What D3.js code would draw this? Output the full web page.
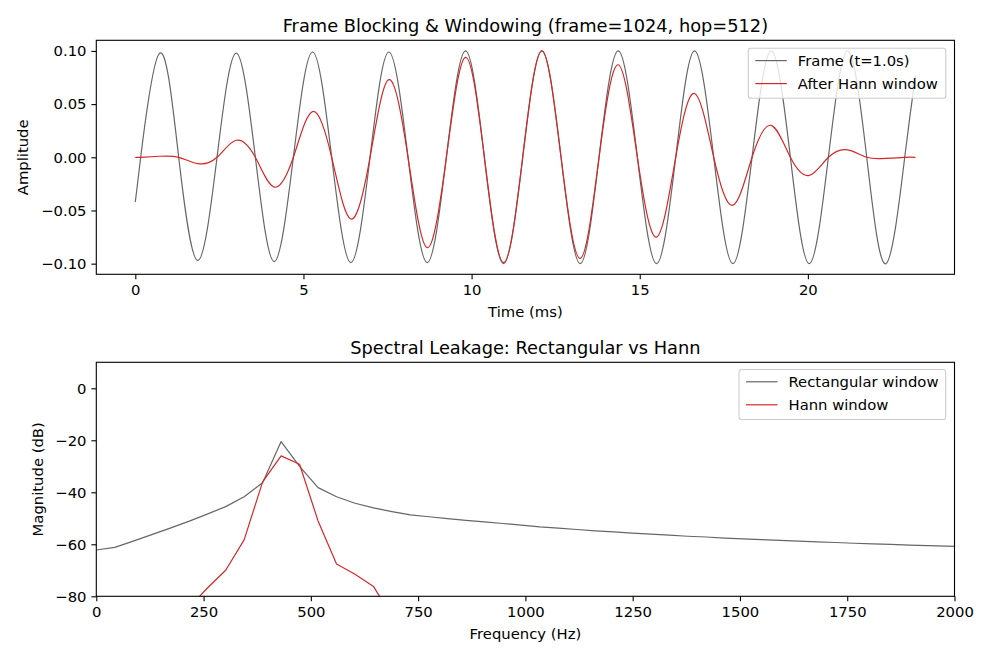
<!DOCTYPE html>
<html>
<head>
<meta charset="utf-8">
<script src="https://cdn.jsdelivr.net/npm/d3@7"></script>
<style>
  body { margin: 0; background: #fff; }
  svg text { font-family: "DejaVu Sans", sans-serif; fill: #000; }
</style>
</head>
<body>
<script>
const width = 990
const height = 660

// top panel: one frame, points at zero crossings and extrema (ms)
const frameTime = [0, 0.16, 0.73, 1.29, 1.86, 2.43, 3.00, 3.57, 4.13, 4.70, 5.27, 5.84, 6.41, 6.98,
  7.54, 8.11, 8.68, 9.25, 9.82, 10.38, 10.95, 11.52, 12.09, 12.66, 13.23, 13.79, 14.36, 14.93,
  15.50, 16.07, 16.63, 17.20, 17.77, 18.34, 18.91, 19.48, 20.04, 20.61, 21.18, 21.75, 22.32,
  22.88, 23.20]
const frameAmp = [-0.042, 0, 0.098, 0, -0.097, 0, 0.098, 0, -0.098, 0, 0.099, 0, -0.099, 0,
  0.099, 0, -0.099, 0, 0.100, 0, -0.100, 0, 0.100, 0, -0.100, 0, 0.100, 0,
  -0.100, 0, 0.100, 0, -0.100, 0, 0.100, 0, -0.100, 0, 0.100, 0, -0.100,
  0, 0.077]
const hannAmp = [0, 0, 0.001, 0, -0.006, 0, 0.016, 0, -0.028, 0, 0.043, 0, -0.058, 0,
  0.073, 0, -0.085, 0, 0.094, 0, -0.099, 0, 0.100, 0, -0.095, 0, 0.087, 0,
  -0.075, 0, 0.060, 0, -0.045, 0, 0.030, 0, -0.017, 0, 0.007, 0, -0.001,
  0, 0]

// bottom panel: FFT bins (Hz) and magnitudes (dB)
const binFreq = [0, 43.1, 86.1, 129.2, 172.3, 215.3, 258.4, 301.5, 344.5, 387.6, 430.7, 473.7,
  516.8, 559.9, 603.0, 646.0, 689.1, 732.1, 775.2, 818.3, 861.3, 904.4, 947.5, 990.5,
  1033.6, 1076.7, 1119.7, 1162.8, 1205.9, 1248.9, 1292.0, 1335.1, 1378.1, 1421.2, 1464.3, 1507.3,
  1550.4, 1593.5, 1636.5, 1679.6, 1722.7, 1765.7, 1808.8, 1851.9, 1894.9, 1938.0, 1981.1, 2024.1]
const rectDb = [-62.2, -61.2, -58.8, -56.3, -53.8, -51.2, -48.4, -45.5, -41.7, -36.3, -20.5, -30.0,
  -38.2, -41.7, -44.2, -46.0, -47.4, -48.7, -49.4, -50.1, -50.8, -51.4, -52.0, -52.6,
  -53.3, -53.8, -54.3, -54.8, -55.2, -55.7, -56.1, -56.5, -56.9, -57.2, -57.6, -57.9,
  -58.2, -58.5, -58.8, -59.1, -59.3, -59.6, -59.8, -60.0, -60.3, -60.5, -60.7, -60.9]
const hannFreq = [172.3, 215.3, 258.4, 301.5, 344.5, 387.6, 430.7, 473.7, 516.8, 559.9, 603.0, 646.0, 689.1, 732.1]
const hannDb = [-90.0, -84.5, -76.9, -70.0, -58.3, -36.0, -26.0, -29.2, -51.0, -67.6, -71.5, -76.2, -88.0, -93.0]

const ampTicks = [0.10, 0.05, 0.00, -0.05, -0.10]
const timeTicks = [0, 5, 10, 15, 20]
const dbTicks = [0, -20, -40, -60, -80]
const freqTicks = [0, 250, 500, 750, 1000, 1250, 1500, 1750, 2000]

const grayCol = '#666666'
const redCol = '#d62728'
const fs = 14.8

const svg = d3.select('body').append('svg')
  .attr('width', width)
  .attr('height', height)

const left = 96.3, right = 954.5
const fmtMinus = s => s.replace('-', '\u2212')

function panel(opts) {
  let g = svg.append('g')
  let x = d3.scaleLinear().domain(opts.xDomain).range([left, right])
  let y = d3.scaleLinear().domain(opts.yDomain).range([opts.bottom, opts.top])

  let clipId = 'clip' + opts.id
  svg.append('clipPath').attr('id', clipId)
    .append('rect')
    .attr('x', left).attr('y', opts.top)
    .attr('width', right - left).attr('height', opts.bottom - opts.top)

  let plot = g.append('g').attr('clip-path', 'url(#' + clipId + ')')
  opts.series.forEach(s => {
    let line = d3.line()
      .x((d, i) => x(s.xs[i]))
      .y((d, i) => y(s.ys[i]))
      .curve(s.curve || d3.curveLinear)
    plot.append('path')
      .attr('d', line(s.ys))
      .attr('fill', 'none')
      .attr('stroke', s.color)
      .attr('stroke-width', 1.2)
      .attr('stroke-linejoin', 'round')
  })

  let xAxis = g.append('g')
    .attr('transform', 'translate(0,' + opts.bottom + ')')
    .call(d3.axisBottom(x).tickValues(opts.xTicks).tickFormat(opts.xFmt)
      .tickSize(4.9).tickPadding(4.9))
  let yAxis = g.append('g')
    .attr('transform', 'translate(' + left + ',0)')
    .call(d3.axisLeft(y).tickValues(opts.yTicks).tickFormat(opts.yFmt)
      .tickSize(4.9).tickPadding(4.9))
  ;[xAxis, yAxis].forEach(a => {
    a.select('.domain').remove()
    a.selectAll('line').attr('stroke', '#000').attr('stroke-width', 1.1)
    a.selectAll('text').attr('font-size', fs).attr('font-family', 'DejaVu Sans').attr('fill', '#000')
  })

  g.append('rect')
    .attr('x', left).attr('y', opts.top)
    .attr('width', right - left).attr('height', opts.bottom - opts.top)
    .attr('fill', 'none').attr('stroke', '#000').attr('stroke-width', 1.1)

  g.append('text')
    .attr('x', (left + right) / 2).attr('y', opts.top - 8.3)
    .attr('text-anchor', 'middle').attr('font-size', 17.8)
    .text(opts.title)
  g.append('text')
    .attr('x', (left + right) / 2).attr('y', opts.bottom + 43)
    .attr('text-anchor', 'middle').attr('font-size', fs)
    .text(opts.xLabel)
  g.append('text')
    .attr('transform', 'translate(' + opts.yLabelX + ',' + (opts.top + opts.bottom) / 2 + ') rotate(-90)')
    .attr('text-anchor', 'middle').attr('dy', '0.35em').attr('font-size', fs)
    .text(opts.yLabel)

  // legend
  let lg = g.append('g')
  lg.append('rect')
    .attr('x', opts.legend.x).attr('y', opts.legend.y)
    .attr('width', opts.legend.w).attr('height', 50)
    .attr('rx', 2.8)
    .attr('fill', 'rgba(255,255,255,0.8)').attr('stroke', '#cccccc').attr('stroke-width', 1.1)
  opts.series.forEach((s, i) => {
    let cy = opts.legend.y + 12.3 + i * 23
    lg.append('line')
      .attr('x1', opts.legend.x + 7).attr('x2', opts.legend.x + 38.5)
      .attr('y1', cy).attr('y2', cy)
      .attr('stroke', s.color).attr('stroke-width', 1.2)
    lg.append('text')
      .attr('x', opts.legend.x + 49.5).attr('y', cy)
      .attr('dy', '0.35em').attr('font-size', fs)
      .text(s.name)
  })
}

panel({
  id: 'top', top: 40.3, bottom: 274.3,
  xDomain: [-1.16, 24.36], yDomain: [-0.11, 0.11],
  xTicks: timeTicks, yTicks: ampTicks,
  xFmt: d => fmtMinus(d3.format('d')(d)), yFmt: d => fmtMinus(d3.format('.2f')(d)),
  title: 'Frame Blocking & Windowing (frame=1024, hop=512)',
  xLabel: 'Time (ms)', yLabel: 'Amplitude', yLabelX: 23.3,
  legend: { x: 748.3, y: 48.3, w: 197.5 },
  series: [
    { name: 'Frame (t=1.0s)', xs: frameTime, ys: frameAmp, color: grayCol, curve: d3.curveNatural },
    { name: 'After Hann window', xs: frameTime, ys: hannAmp, color: redCol, curve: d3.curveNatural }
  ]
})

panel({
  id: 'bot', top: 362.3, bottom: 596.3,
  xDomain: [0, 2000], yDomain: [-80, 10],
  xTicks: freqTicks, yTicks: dbTicks,
  xFmt: d => d3.format('d')(d), yFmt: d => fmtMinus(d3.format('d')(d)),
  title: 'Spectral Leakage: Rectangular vs Hann',
  xLabel: 'Frequency (Hz)', yLabel: 'Magnitude (dB)', yLabelX: 37.7,
  legend: { x: 739, y: 369.5, w: 206.7 },
  series: [
    { name: 'Rectangular window', xs: binFreq, ys: rectDb, color: grayCol },
    { name: 'Hann window', xs: hannFreq, ys: hannDb, color: redCol }
  ]
})
</script>
</body>
</html>
